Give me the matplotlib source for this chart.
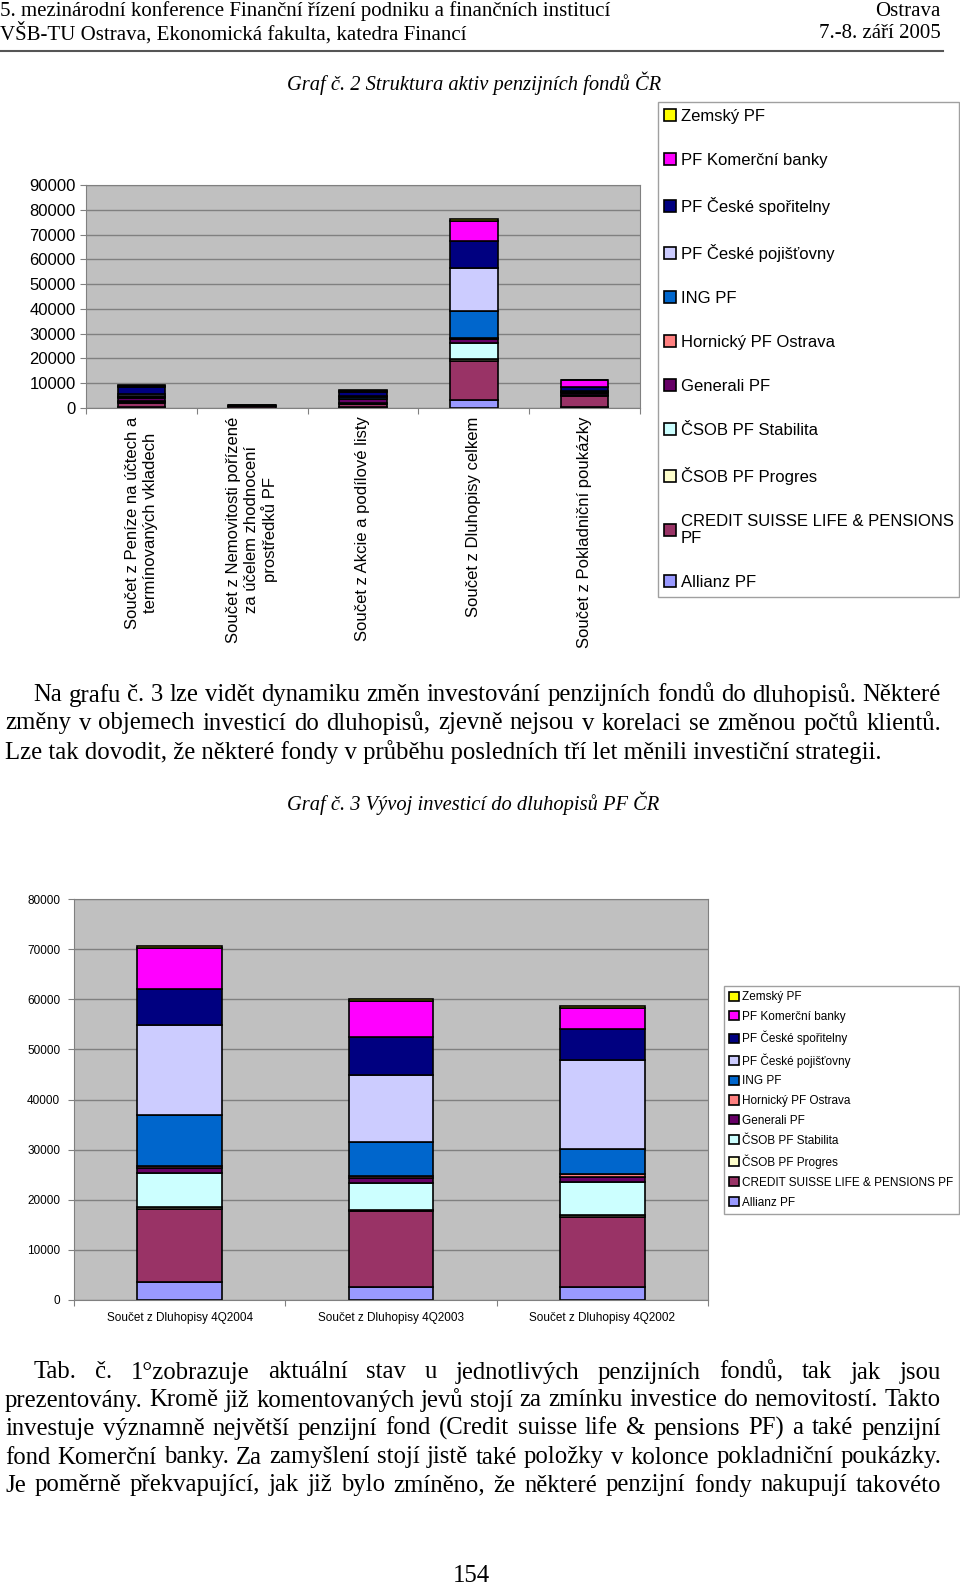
import numpy as np
import matplotlib.pyplot as plt

W, H = 960, 1587

# series, bottom -> top of the stack
series = ['Allianz PF', 'CREDIT SUISSE LIFE & PENSIONS PF', 'ČSOB PF Progres',
          'ČSOB PF Stabilita', 'Generali PF', 'Hornický PF Ostrava', 'ING PF',
          'PF České pojišťovny', 'PF České spořitelny', 'PF Komerční banky', 'Zemský PF']
colors = ['#9999FF', '#993366', '#FFFFCC', '#CCFFFF', '#660066', '#FF8080',
          '#0066CC', '#CCCCFF', '#000080', '#FF00FF', '#FFFF00']

# Graf 2 - struktura aktiv
cats1 = ['Součet z Peníze na účtech a\ntermínovaných vkladech',
         'Součet z Nemovitosti pořízené\nza účelem zhodnocení\nprostředků PF',
         'Součet z Akcie a podílové listy',
         'Součet z Dluhopisy celkem',
         'Součet z Pokladniční poukázky']
allianz1 = [300, 0, 300, 3100, 500]
credit1 = [1900, 700, 1200, 15900, 4400]
progres1 = [300, 0, 200, 600, 200]
stabilita1 = [400, 0, 300, 6600, 300]
generali1 = [1100, 0, 1500, 1500, 600]
hornicky1 = [300, 0, 300, 500, 200]
ing1 = [700, 0, 600, 11000, 400]
cpoj1 = [800, 0, 400, 17500, 300]
csp1 = [2800, 0, 1800, 10500, 1600]
kb1 = [300, 400, 300, 8400, 2700]
zemsky1 = [200, 0, 200, 700, 300]
ticks1 = [0, 10000, 20000, 30000, 40000, 50000, 60000, 70000, 80000, 90000]

# Graf 3 - vyvoj investic do dluhopisu
cats2 = ['Součet z Dluhopisy 4Q2004', 'Součet z Dluhopisy 4Q2003', 'Součet z Dluhopisy 4Q2002']
allianz2 = [3600, 2600, 2600]
credit2 = [14600, 15100, 13950]
progres2 = [350, 350, 350]
stabilita2 = [6800, 5300, 6700]
generali2 = [1000, 1000, 1000]
hornicky2 = [450, 470, 470]
ing2 = [10200, 6650, 5100]
cpoj2 = [17800, 13500, 17800]
csp2 = [7300, 7500, 6100]
kb2 = [8200, 7250, 4200]
zemsky2 = [300, 300, 300]
ticks2 = [0, 10000, 20000, 30000, 40000, 50000, 60000, 70000, 80000]

data1 = [allianz1, credit1, progres1, stabilita1, generali1, hornicky1, ing1, cpoj1, csp1, kb1, zemsky1]
data2 = [allianz2, credit2, progres2, stabilita2, generali2, hornicky2, ing2, cpoj2, csp2, kb2, zemsky2]

SERIF = 'Liberation Serif'
SANS = 'Liberation Sans'

fig = plt.figure(figsize=(W/100, H/100), dpi=100)
renderer = fig.canvas.get_renderer()

def rect(l, t, r, b):
	return [l/W, 1 - b/H, (r - l)/W, (b - t)/H]

def ftext(x, y, s, **kw):
	return fig.text(x/W, 1 - y/H, s, **kw)

def line(y, s, x0, x1, size, justify=True):
	if not justify:
		ftext(x0, y, s, fontsize=size, family=SERIF, va='center_baseline', ha='left')
		return
	words = s.split(' ')
	tt = [ftext(0, y, w, fontsize=size, family=SERIF, va='center_baseline', ha='left') for w in words]
	ws = [t.get_window_extent(renderer).width for t in tt]
	gap = (x1 - x0 - sum(ws)) / (len(words) - 1)
	x = x0
	for t, w in zip(tt, ws):
		t.set_position((x/W, 1 - y/H))
		x += w + gap

def stacked(ax, data, cats, width, ymax, yticks, fs, lab_kw, leg_labels, leg_box, leg_kw):
	x = np.arange(len(cats))
	bottom = np.zeros(len(cats))
	handles = []
	for vals, col in zip(data, colors):
		b = ax.bar(x, vals, width, bottom=bottom, color=col, edgecolor='black', linewidth=1.2)
		handles.append(b)
		bottom += np.array(vals)
	ax.set_facecolor('#C0C0C0')
	ax.set_xlim(-0.5, len(cats) - 0.5)
	ax.set_ylim(0, ymax)
	ax.set_yticks(yticks)
	ax.set_yticklabels([str(t) for t in yticks], fontsize=fs, family=SANS)
	ax.set_xticks(np.arange(-0.5, len(cats), 1))
	ax.set_xticklabels([])
	ax.set_xticks(x, minor=True)
	ax.set_xticklabels(cats, minor=True, fontsize=fs, family=SANS, **lab_kw)
	ax.tick_params(axis='x', which='minor', length=0)
	ax.tick_params(axis='both', which='major', length=4, color='#808080', direction='out')
	ax.yaxis.grid(True, color='#808080', linewidth=1)
	ax.set_axisbelow(True)
	for sp in ax.spines.values():
		sp.set_color('#808080')
	l, t, r, b = leg_box
	leg = ax.legend(handles[::-1], leg_labels[::-1], loc='upper left', mode='expand',
		bbox_to_anchor=(l/W, 1 - t/H, (r - l)/W, 0.0001), bbox_transform=fig.transFigure,
		borderaxespad=0, fancybox=False, framealpha=1, edgecolor='#A0A0A0',
		prop={'family': SANS, 'size': fs}, **leg_kw)
	leg.get_frame().set_linewidth(1)
	return leg

# header
fs_head = 15.05
ftext(0, 11, '5. mezinárodní konference Finanční řízení podniku a finančních institucí',
	fontsize=fs_head, family=SERIF, va='center')
ftext(0, 33.5, 'VŠB-TU Ostrava, Ekonomická fakulta, katedra Financí', fontsize=fs_head, family=SERIF, va='center')
ftext(941, 11, 'Ostrava', fontsize=fs_head, family=SERIF, va='center', ha='right')
ftext(941, 33.5, '7.-8. září 2005', fontsize=fs_head, family=SERIF, va='center', ha='right')
fig.add_artist(plt.Line2D([0, 943/W], [1 - 51/H, 1 - 51/H], color='#555555', linewidth=1.5))

ftext(474, 83, 'Graf č. 2 Struktura aktiv penzijních fondů ČR', fontsize=14.8, family=SERIF,
	style='italic', ha='center', va='center')

ax1 = fig.add_axes(rect(86, 185, 640, 408))
labels1 = list(series)
labels1[1] = 'CREDIT SUISSE LIFE & PENSIONS\nPF'
stacked(ax1, data1, cats1, 0.43, 90000, ticks1, 12,
	dict(rotation=90, linespacing=1.2, multialignment='center'),
	labels1, (657.5, 102, 959, 602),
	dict(labelspacing=1.74, handlelength=0.7, handleheight=0.7, handletextpad=0.3, borderpad=0.4))
ax1.tick_params(axis='x', which='minor', pad=6)

# paragraph 1
fs_body = 17.8
line(693, 'Na grafu č. 3 lze vidět dynamiku změn investování penzijních fondů do dluhopisů. Některé', 33.4, 941, fs_body)
line(721, 'změny v objemech investicí do dluhopisů, zjevně nejsou v korelaci se změnou počtů klientů.', 5, 941, fs_body)
line(750, 'Lze tak dovodit, že některé fondy v průběhu posledních tří let měnili investiční strategii.', 5, 941, fs_body, justify=False)

ftext(473, 803, 'Graf č. 3 Vývoj investicí do dluhopisů PF ČR', fontsize=14.8, family=SERIF,
	style='italic', ha='center', va='center')

ax2 = fig.add_axes(rect(74, 899, 708, 1300))
stacked(ax2, data2, cats2, 0.4, 80000, ticks2, 8.5, dict(),
	series, (724, 986, 959, 1214),
	dict(labelspacing=0.66, handlelength=0.8, handleheight=0.8, handletextpad=0.3, borderpad=0.45))
ax2.tick_params(axis='x', which='minor', pad=9)
ax2.tick_params(axis='y', pad=6)

# paragraph 2
line(1370, 'Tab. č. 1°zobrazuje aktuální stav u jednotlivých penzijních fondů, tak jak jsou', 33.4, 941, fs_body)
line(1398, 'prezentovány. Kromě již komentovaných jevů stojí za zmínku investice do nemovitostí. Takto', 5, 941, fs_body)
line(1426, 'investuje významně největší penzijní fond (Credit suisse life & pensions PF) a také penzijní', 5, 941, fs_body)
line(1455, 'fond Komerční banky. Za zamyšlení stojí jistě také položky v kolonce pokladniční poukázky.', 5, 941, fs_body)
line(1483, 'Je poměrně překvapující, jak již bylo zmíněno, že některé penzijní fondy nakupují takovéto', 5, 941, fs_body)

ftext(471, 1576, '154', fontsize=fs_body, family=SERIF, ha='center', va='center')

fig.savefig('out.png', dpi=100)
